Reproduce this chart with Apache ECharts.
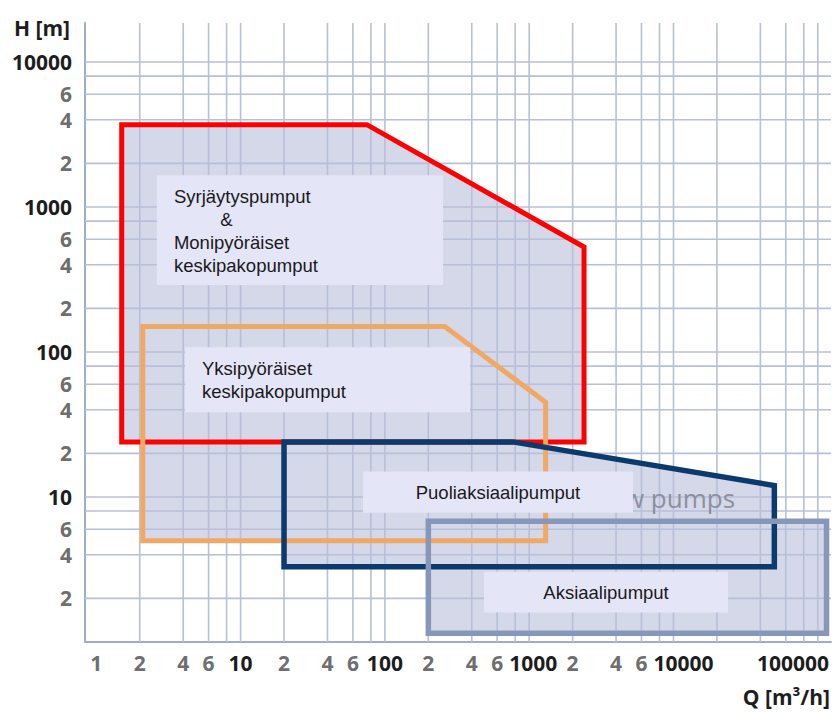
<!DOCTYPE html>
<html>
<head>
<meta charset="utf-8">
<script src="https://cdn.jsdelivr.net/npm/echarts@6/dist/echarts.min.js"></script>
<style>
html,body{margin:0;padding:0;background:#ffffff;}
#chart{width:833px;height:713px;}
</style>
</head>
<body>
<div id="chart"></div>
<script>
// ---------------- data ----------------
const xGridValues = [2,4,6,8,10,20,40,60,80,100,200,400,600,800,1000,2000,4000,6000,8000,10000,20000,40000,60000,80000,100000];
const yGridValues = [2,4,6,8,10,20,40,60,80,100,200,400,600,800,1000,2000,4000,6000,8000,10000];

const xTickValues = [1,2,4,6,10,20,40,60,100,200,400,600,1000,2000,4000,6000,10000,100000];
const xTickLabels = ['1','2','4','6','10','2','4','6','100','2','4','6','1000','2','4','6','10000','100000'];
const yTickValues = [2,4,6,10,20,40,60,100,200,400,600,1000,2000,4000,6000,10000];
const yTickLabels = ['2','4','6','10','2','4','6','100','2','4','6','1000','2','4','6','10000'];

const pumpNames = [
  'Syrjäytyspumput & Monipyöräiset keskipakopumput',
  'Yksipyöräiset keskipakopumput',
  'Puoliaksiaalipumput',
  'Aksiaalipumput'
];
// polygon vertices [Q m3/h, H m]
const syrjaytysMonipyoraiset = [[1.5,24],[1.5,3700],[75,3700],[2400,530],[2400,24]];
const yksipyoraiset         = [[2.1,5],[2.1,150],[260,150],[1300,45],[1300,5]];
const puoliaksiaali         = [[20,3.3],[20,24],[770,24],[50000,12],[50000,3.3]];
const aksiaali              = [[200,1.15],[200,6.8],[115000,6.8],[115000,1.15]];

// annotation boxes (data coordinates of opposite corners) and their texts
const labelTexts = [
  'Syrjäytyspumput\n\u00a0\u00a0\u00a0\u00a0\u00a0\u00a0\u00a0\u00a0\u00a0&\nMonipyöräiset\nkeskipakopumput',
  'Yksipyöräiset\nkeskipakopumput',
  'Puoliaksiaalipumput',
  'Aksiaalipumput'
];
const labelBoxes = [
  [[2.63,1660],[253,290]],
  [[4.12,108],[389,38.5]],
  [[70.5,15],[5240,7.8]],
  [[486,3.05],[23900,1.6]]
];
// faint leftover text of the original picture
const ghostText = 'flow pumps';
const ghostAnchor = [[26700, 9.8]];

// ---------------- styles ----------------
const X_MIN = 0.835, X_MAX = 123500, Y_MIN = 1, Y_MAX = 18600;
const GRID_COLOR = '#b8bfd8';
const AXIS_COLOR = '#a2abc8';
const FILL_COLOR = '#d5d8e8';
const BOX_COLOR = '#e5e5f8';
const MAJOR_TXT = '#1d1d1d';
const MINOR_TXT = '#6e6e6e';
const TICK_FONT = 'bold 21px "Open Sans", sans-serif';
const BOX_FONT = '18.5px "Liberation Sans", Arial, sans-serif';
const LABEL_GAP = 6;
const outlineStyles = [
  {stroke:'#ff0000', lineWidth:5},
  {stroke:'#f0a865', lineWidth:5},
  {stroke:'#0c3a6c', lineWidth:5.5},
  {stroke:'#8797b9', lineWidth:5.5}
];
const labelAlign = ['left','left','center','center'];
const shapes = [syrjaytysMonipyoraiset, yksipyoraiset, puoliaksiaali, aksiaali];

function isDecade(v){ const l = Math.log10(v); return Math.abs(l - Math.round(l)) < 1e-9; }

const measureCtx = document.createElement('canvas').getContext('2d');
function textWidth(s, font){ measureCtx.font = font; return measureCtx.measureText(s).width; }

// keep neighbouring x tick labels from running into each other
function xLabelPlacement(api, cs){
  const out = [];
  let prevRight = -Infinity;
  xTickValues.forEach((v, i) => {
    const w = textWidth(xTickLabels[i], TICK_FONT);
    let c = api.coord([v, Y_MIN])[0];
    if (i === xTickValues.length - 1) c = Math.min(c, cs.x + cs.width - 2 - w/2);
    if (c - w/2 < prevRight + LABEL_GAP) c = prevRight + LABEL_GAP + w/2;
    prevRight = c + w/2;
    out.push(c);
  });
  return out;
}

function polygonSeries(name, pts, style, z){
  return {
    type:'custom', name:name, z:z, silent:true, clip:false,
    coordinateSystem:'cartesian2d',
    data: pts,
    renderItem: function(params, api){
      if (params.dataIndex !== 0) return null;
      const points = pts.map(p => api.coord(p));
      return {type:'polygon', shape:{points:points}, style:Object.assign({lineJoin:'miter', miterLimit:10}, style)};
    }
  };
}

const series = [];
// fills (under the grid)
shapes.forEach((pts, i) => series.push(polygonSeries(pumpNames[i] + ' – alue', pts, {fill:FILL_COLOR}, 1)));

// vertical grid lines
series.push({
  type:'custom', name:'xGrid', z:2, silent:true, clip:false,
  data: xGridValues.map(v => [v, Y_MIN]),
  renderItem: function(params, api){
    const v = api.value(0);
    const a = api.coord([v, Y_MIN]), b = api.coord([v, Y_MAX]);
    return {type:'line', shape:{x1:a[0], y1:a[1], x2:b[0], y2:b[1]}, style:{stroke:GRID_COLOR, lineWidth:1.6}};
  }
});
// horizontal grid lines
series.push({
  type:'custom', name:'yGrid', z:2, silent:true, clip:false,
  data: yGridValues.map(v => [X_MIN, v]),
  renderItem: function(params, api){
    const v = api.value(1);
    const a = api.coord([X_MIN, v]), b = api.coord([X_MAX, v]);
    return {type:'line', shape:{x1:a[0], y1:a[1], x2:b[0], y2:b[1]}, style:{stroke:GRID_COLOR, lineWidth:1.6}};
  }
});

// outlines
shapes.forEach((pts, i) => series.push(polygonSeries(pumpNames[i], pts, Object.assign({fill:'none'}, outlineStyles[i]), 3)));

// ghost text
series.push({
  type:'custom', name:'ghost', z:4, silent:true, clip:false,
  data: ghostAnchor,
  renderItem: function(params, api){
    const p = api.coord([api.value(0), api.value(1)]);
    return {type:'text', x:p[0], y:p[1], style:{text:ghostText, fill:'#8b919e', font:'26px "Open Sans", sans-serif',
      align:'right', verticalAlign:'middle', textAlign:'right', textVerticalAlign:'middle'}};
  }
});

// annotation boxes
series.push({
  type:'custom', name:'labels', z:5, silent:true, clip:false,
  data: labelBoxes.map(b => b[0]),
  renderItem: function(params, api){
    const i = params.dataIndex;
    const a = api.coord(labelBoxes[i][0]), b = api.coord(labelBoxes[i][1]);
    const x0 = Math.min(a[0], b[0]), y0 = Math.min(a[1], b[1]);
    const w = Math.abs(b[0]-a[0]), h = Math.abs(b[1]-a[1]);
    const centered = labelAlign[i] === 'center';
    return {
      type:'group',
      children:[
        {type:'rect', shape:{x:x0, y:y0, width:w, height:h}, style:{fill:BOX_COLOR}},
        {type:'text', x: centered ? x0 + w/2 : x0 + 17, y: centered ? y0 + h/2 : y0 + 10,
         style:{text:labelTexts[i], fill:'#1a1a1a', font:BOX_FONT, lineHeight:23,
           align: centered ? 'center' : 'left', verticalAlign: centered ? 'middle' : 'top',
           textAlign: centered ? 'center' : 'left', textVerticalAlign: centered ? 'middle' : 'top'}}
      ]
    };
  }
});

// x tick labels
series.push({
  type:'custom', name:'xTicks', z:6, silent:true, clip:false,
  data: xTickValues.map(v => [v, Y_MIN]),
  renderItem: function(params, api){
    const i = params.dataIndex;
    const v = api.value(0);
    const p = api.coord([v, Y_MIN]);
    const xs = xLabelPlacement(api, params.coordSys);
    return {type:'text', x:xs[i], y:p[1] + 21, style:{text:xTickLabels[i], fill:(isDecade(v) && v > 1) ? MAJOR_TXT : MINOR_TXT,
      font:TICK_FONT, align:'center', verticalAlign:'middle', textAlign:'center', textVerticalAlign:'middle'}};
  }
});
// y tick labels
series.push({
  type:'custom', name:'yTicks', z:6, silent:true, clip:false,
  data: yTickValues.map(v => [X_MIN, v]),
  renderItem: function(params, api){
    const i = params.dataIndex;
    const v = api.value(1);
    const p = api.coord([X_MIN, v]);
    return {type:'text', x:p[0] - 13, y:p[1], style:{text:yTickLabels[i], fill:isDecade(v) ? MAJOR_TXT : MINOR_TXT,
      font:TICK_FONT, align:'right', verticalAlign:'middle', textAlign:'right', textVerticalAlign:'middle'}};
  }
});

const option = {
  animation:false,
  backgroundColor:'#ffffff',
  grid:{left:85, right:2, top:23, bottom:71, containLabel:false},
  xAxis:{
    type:'log', logBase:10, min:X_MIN, max:X_MAX,
    name:'Q [m³/h]', nameLocation:'end', nameGap:-1,
    nameTextStyle:{color:MAJOR_TXT, fontFamily:'Open Sans', fontWeight:'bold', fontSize:21, align:'right', verticalAlign:'top', padding:[44,0,0,0]},
    axisLine:{show:true, lineStyle:{color:AXIS_COLOR, width:2}},
    axisTick:{show:false}, axisLabel:{show:false}, splitLine:{show:false}, minorSplitLine:{show:false}
  },
  yAxis:{
    type:'log', logBase:10, min:Y_MIN, max:Y_MAX,
    name:'H [m]', nameLocation:'end', nameGap:-5,
    nameTextStyle:{color:MAJOR_TXT, fontFamily:'Open Sans', fontWeight:'bold', fontSize:21, align:'right', verticalAlign:'middle', padding:[0,15,0,0]},
    axisLine:{show:true, lineStyle:{color:AXIS_COLOR, width:2}},
    axisTick:{show:false}, axisLabel:{show:false}, splitLine:{show:false}, minorSplitLine:{show:false}
  },
  series:series
};

const chart = echarts.init(document.getElementById('chart'), null, {renderer:'svg'});
chart.setOption(option);
</script>
</body>
</html>
